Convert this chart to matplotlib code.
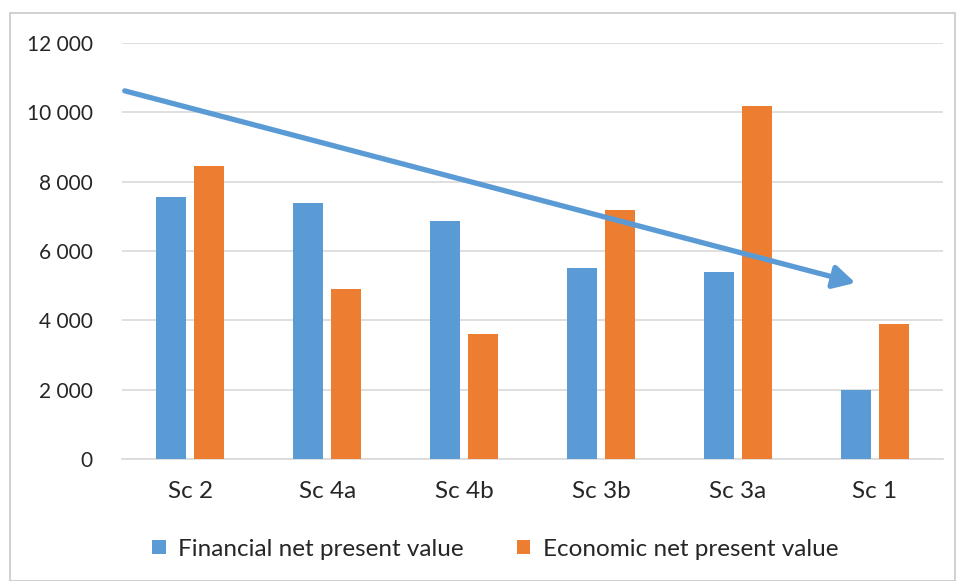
import matplotlib.pyplot as plt
import matplotlib.patches as mpatches
import numpy as np
from matplotlib.ticker import FuncFormatter

plt.rcParams['font.family'] = ['Lato', 'DejaVu Sans']

# scenarios and net present values
scenarios = ['Sc 2', 'Sc 4a', 'Sc 4b', 'Sc 3b', 'Sc 3a', 'Sc 1']
financial_npv = [7550, 7380, 6860, 5520, 5390, 1990]
economic_npv = [8450, 4900, 3600, 7180, 10180, 3900]

# trend arrow (category position, value)
arrow_start = (-0.48, 10620)
arrow_end = (4.86, 5080)

blue = '#5b9bd5'
orange = '#ed7d31'

fig = plt.figure(figsize=(9.56, 5.81), dpi=100)
ax = fig.add_axes([122 / 956, 1 - 459 / 581, 821 / 956, 416 / 581])

x = np.arange(len(scenarios))
w = 0.22
off = 0.139
ax.bar(x - off, financial_npv, w, color=blue, label='Financial net present value', zorder=3)
ax.bar(x + off, economic_npv, w, color=orange, label='Economic net present value', zorder=3)

ax.set_xlim(-0.5, len(scenarios) - 0.5)
ax.set_ylim(0, 12000)
ax.set_yticks(range(0, 12001, 2000))
ax.yaxis.set_major_formatter(FuncFormatter(lambda v, p: f'{int(v):,}'.replace(',', ' ')))
ax.set_xticks(x)
ax.set_xticklabels(scenarios)
ax.tick_params(length=0, colors='#262626')
ax.tick_params(axis='y', pad=21, labelsize=15)
ax.tick_params(axis='x', pad=16, labelsize=17.5)
ax.grid(axis='y', color='#d9d9d9', linewidth=1.2, zorder=0)
for s in ['top', 'right', 'left']:
    ax.spines[s].set_visible(False)
ax.spines['bottom'].set_color('#d9d9d9')
ax.spines['bottom'].set_linewidth(1.2)

ax.annotate('', xy=arrow_end, xytext=arrow_start,
            arrowprops=dict(arrowstyle='-|>,head_length=1.3,head_width=0.7',
                            color=blue, lw=3.8, shrinkA=0, shrinkB=0),
            zorder=5)

leg = fig.legend(loc='center', bbox_to_anchor=(0.518, 1 - 549 / 581), ncol=2,
                 frameon=False, fontsize=17.5, handlelength=0.55, handleheight=0.55,
                 handletextpad=0.5, columnspacing=2.2)
for t in leg.get_texts():
    t.set_color('#262626')

# outer chart frame
fig.patches.append(mpatches.Rectangle((10 / 956, 0.5 / 581), 945 / 956, (581 - 13.5) / 581,
                                      transform=fig.transFigure, fill=False,
                                      edgecolor='#c8c8c8', linewidth=1.2))

fig.savefig('out.png', dpi=100)
